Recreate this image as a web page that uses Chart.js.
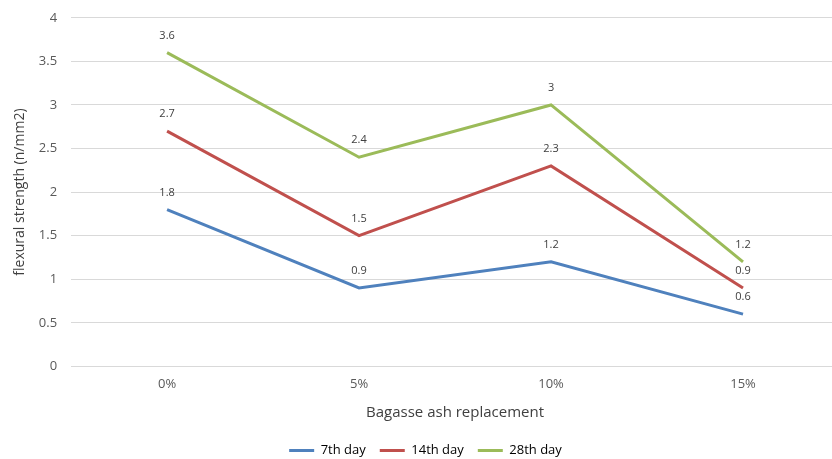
<!DOCTYPE html>
<html>
<head>
<meta charset="utf-8">
<script src="https://cdn.jsdelivr.net/npm/chart.js@4"></script>
<style>
  html, body { margin: 0; padding: 0; background: #fff; overflow: hidden; }
  #wrap { position: relative; top: -4px; width: 839px; height: 469px; }
</style>
</head>
<body>
<div id="wrap"><canvas id="grafico"></canvas></div>
<script>
// dados
const categorias = ['0%', '5%', '10%', '15%']
const dia7 = [1.8, 0.9, 1.2, 0.6]
const dia14 = [2.7, 1.5, 2.3, 0.9]
const dia28 = [3.6, 2.4, 3, 1.2]

Chart.defaults.font.family = '"Open Sans", sans-serif'
Chart.defaults.color = '#595959'

// rótulos de valor acima dos pontos
const rotulos = {
  id: 'rotulos',
  afterDatasetsDraw(chart) {
    const ctx = chart.ctx
    ctx.save()
    ctx.font = '11px "Open Sans", sans-serif'
    ctx.fillStyle = '#404040'
    ctx.textAlign = 'center'
    ctx.textBaseline = 'middle'
    chart.data.datasets.forEach((ds, i) => {
      chart.getDatasetMeta(i).data.forEach((pt, j) => {
        ctx.fillText(ds.data[j], pt.x, pt.y - 17)
      })
    })
    ctx.restore()
  }
}

const ctx = document.getElementById('grafico')
const data = {
  labels: categorias,
  datasets: [
    { label: '7th day', data: dia7, borderColor: '#4F81BD', backgroundColor: '#4F81BD' },
    { label: '14th day', data: dia14, borderColor: '#C0504D', backgroundColor: '#C0504D' },
    { label: '28th day', data: dia28, borderColor: '#9BBB59', backgroundColor: '#9BBB59' }
  ]
}

new Chart(ctx, {
  type: 'line',
  data,
  plugins: [rotulos],
  options: {
    responsive: true,
    maintainAspectRatio: false,
    animation: false,
    elements: {
      line: { borderWidth: 3, tension: 0 },
      point: { radius: 0 }
    },
    layout: { padding: { left: 12, right: 0, top: -6, bottom: -2 } },
    plugins: {
      tooltip: { enabled: false },
      legend: {
        position: 'bottom',
        labels: {
          boxWidth: 25,
          boxHeight: 3,
          padding: 14,
          color: '#595959',
          font: { size: 13 },
          generateLabels(chart) {
            return chart.data.datasets.map((ds, i) => ({
              text: ds.label,
              fillStyle: ds.borderColor,
              strokeStyle: ds.borderColor,
              lineWidth: 0,
              datasetIndex: i
            }))
          }
        }
      }
    },
    scales: {
      x: {
        offset: true,
        grid: { display: false, drawTicks: false },
        border: { color: '#d9d9d9' },
        ticks: { padding: 10, font: { size: 13 } },
        title: {
          display: true,
          text: 'Bagasse ash replacement',
          color: '#404040',
          font: { size: 15 },
          padding: { top: 2, bottom: 8 }
        }
      },
      y: {
        min: 0,
        max: 4,
        ticks: {
          stepSize: 0.5,
          padding: 14,
          font: { size: 13 },
          callback: v => String(v)
        },
        grid: { color: '#d9d9d9', drawTicks: false },
        border: { display: false },
        title: {
          display: true,
          text: 'flexural strength (n/mm2)',
          color: '#404040',
          font: { size: 14 },
          padding: { top: 0, bottom: -4 }
        }
      }
    }
  }
})
</script>
</body>
</html>
